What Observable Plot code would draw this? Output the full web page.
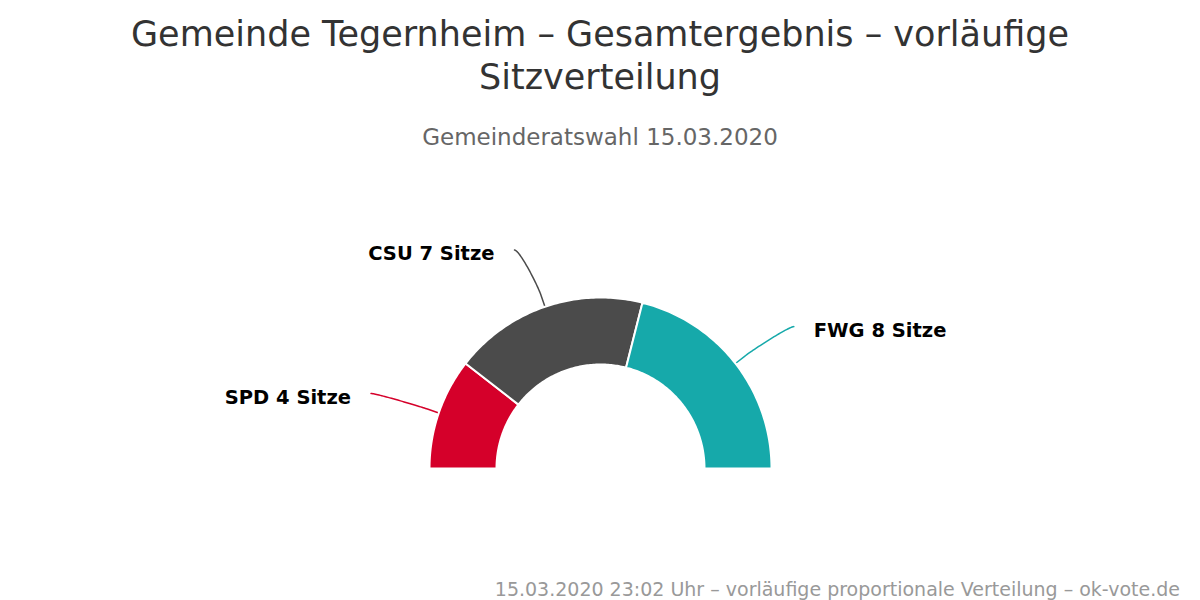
<!DOCTYPE html>
<html>
<head>
<meta charset="utf-8">
<script src="https://cdn.jsdelivr.net/npm/d3@7"></script>
<script src="https://cdn.jsdelivr.net/npm/@observablehq/plot@0.6"></script>
<style>
  html, body { margin: 0; padding: 0; background: #fff; }
  #wrap { position: relative; width: 1200px; height: 600px; overflow: hidden; font-family: "DejaVu Sans", sans-serif; }
  #chart { position: absolute; left: 0; top: 0; }
  .title { position: absolute; left: 0; width: 1200px; text-align: center; color: #333333; font-size: 35px; line-height: 43px; top: 13px; }
  .subtitle { position: absolute; left: 0; width: 1200px; text-align: center; color: #666666; font-size: 23px; line-height: 1.164; top: 124px; }
  .caption { position: absolute; right: 20px; color: #999999; font-size: 19px; line-height: 1.164; top: 578px; white-space: nowrap; }
</style>
</head>
<body>
<div id="wrap">
  <div id="chart"></div>
  <div class="title">Gemeinde Tegernheim – Gesamtergebnis – vorläufige<br>Sitzverteilung</div>
  <div class="subtitle">Gemeinderatswahl 15.03.2020</div>
  <div class="caption">15.03.2020 23:02 Uhr – vorläufige proportionale Verteilung – ok-vote.de</div>
</div>
<script>
// ---- data ----
const parties = ["SPD", "CSU", "FWG"];
const seats = [4, 7, 8];
const colors = ["#d5002a", "#4b4b4b", "#16a9aa"];
const unit = "Sitze";

// ---- geometry (chart units = pixels, center of pie at 0,0) ----
const R = 171, r0 = 104, labelDist = 60;
const total = d3.sum(seats);
const toXY = (deg, rad) => {
  const a = deg * Math.PI / 180;
  return [-rad * Math.cos(a), rad * Math.sin(a)];
};

const slicePts = [];
const connPts = [];
const labels = [];
let acc = 0;
parties.forEach((p, i) => {
  const a0 = acc / total * 180;
  acc += seats[i];
  const a1 = acc / total * 180;
  const n = 80;
  for (let k = 0; k <= n; k++) {
    const [x, y] = toXY(a0 + (a1 - a0) * k / n, R);
    slicePts.push({party: p, x, y});
  }
  for (let k = n; k >= 0; k--) {
    const [x, y] = toXY(a0 + (a1 - a0) * k / n, r0);
    slicePts.push({party: p, x, y});
  }
  // label + connector
  const am = (a0 + a1) / 2;
  const left = am < 90;
  const [nx, ny] = toXY(am, R + labelDist);
  const lx = nx + (left ? -11 : 11), ly = ny;
  const [bx, by] = toXY(am, R + labelDist / 5);
  const [tx, ty] = toXY(am, R);
  const c1 = [lx + (left ? 5 : -5), ly];
  const c2 = [2 * bx - tx, 2 * by - ty];
  const m = 40;
  for (let k = 0; k <= m; k++) {
    const t = k / m, u = 1 - t;
    const x = u*u*u*lx + 3*u*u*t*c1[0] + 3*u*t*t*c2[0] + t*t*t*bx;
    const y = u*u*u*ly + 3*u*u*t*c1[1] + 3*u*t*t*c2[1] + t*t*t*by;
    connPts.push({party: p, x, y});
  }
  connPts.push({party: p, x: tx, y: ty});
  labels.push({party: p, x: lx, y: ly, left, text: `${p} ${seats[i]} ${unit}`});
});

const chart = Plot.plot({
  width: 1200,
  height: 600,
  margin: 0,
  style: {fontFamily: "DejaVu Sans, sans-serif", background: "transparent"},
  x: {domain: [-600, 600], axis: null},
  y: {domain: [-132, 468], axis: null},
  color: {domain: parties, range: colors},
  marks: [
    Plot.line(connPts, {x: "x", y: "y", z: "party", stroke: "party", strokeWidth: 1.5, curve: "linear"}),
    Plot.line(slicePts, {x: "x", y: "y", z: "party", fill: "party", stroke: "#ffffff", strokeWidth: 2, curve: "linear-closed"}),
    Plot.text(labels.filter(d => d.left), {x: "x", y: "y", text: "text", textAnchor: "end", dx: -20, dy: 4, fontSize: 19.5, fontWeight: "bold", fill: "#000000"}),
    Plot.text(labels.filter(d => !d.left), {x: "x", y: "y", text: "text", textAnchor: "start", dx: 20, dy: 4, fontSize: 19.5, fontWeight: "bold", fill: "#000000"})
  ]
});
document.getElementById("chart").appendChild(chart);
</script>
</body>
</html>
